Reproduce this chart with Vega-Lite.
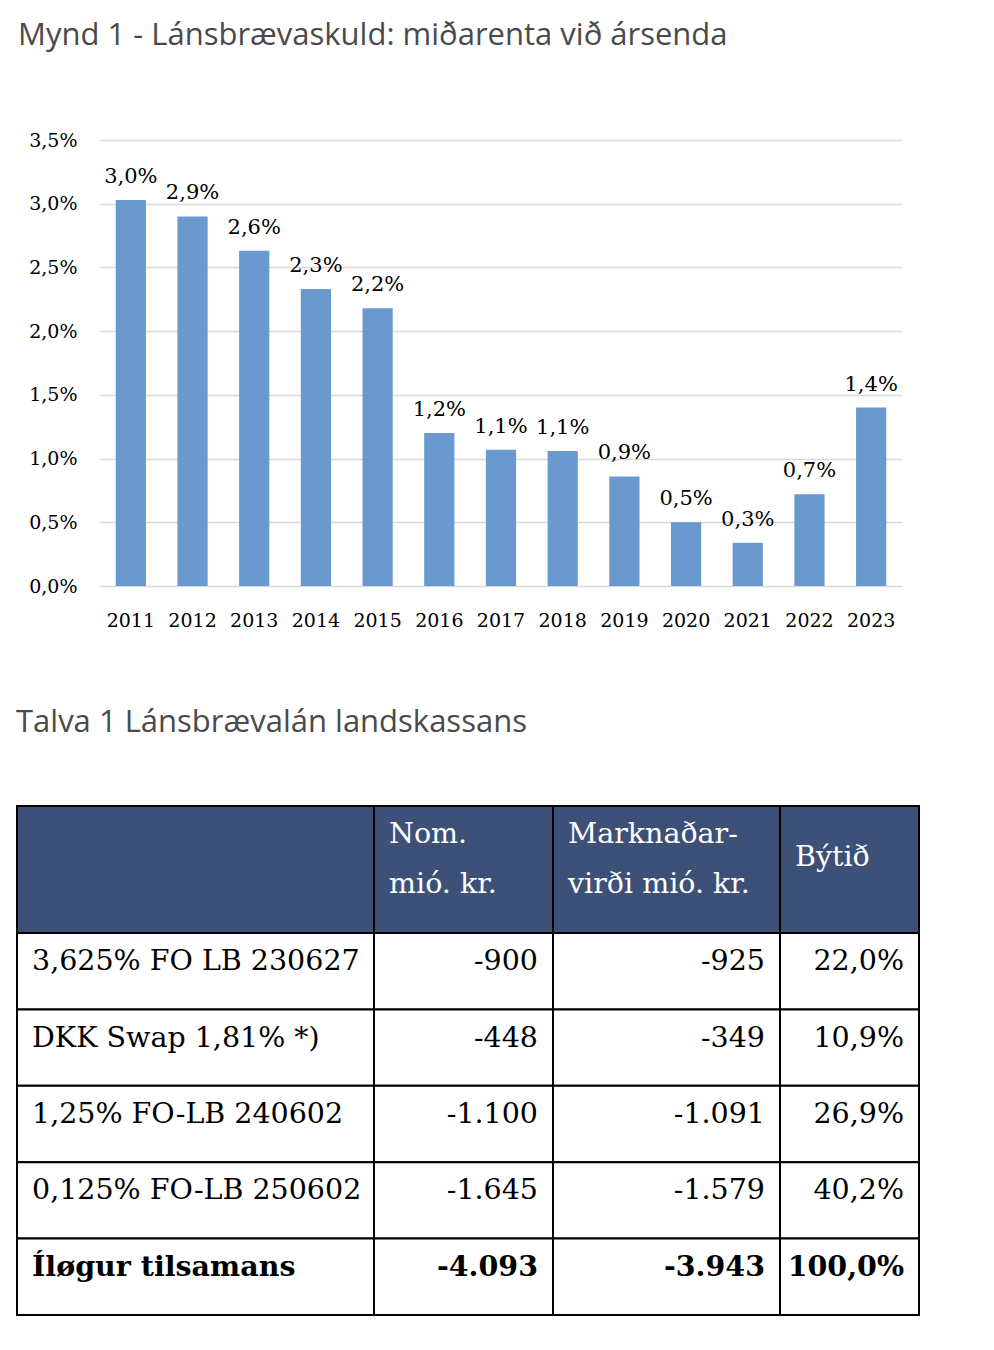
{
  "$schema": "https://vega.github.io/schema/vega-lite/v6.json",
  "padding": {"left": 16, "top": 19, "right": 0, "bottom": 0},
  "background": "white",
  "datasets": {
    "bars": [
      {"year": "2011", "rate": 0.0303},
      {"year": "2012", "rate": 0.0290},
      {"year": "2013", "rate": 0.0263},
      {"year": "2014", "rate": 0.0233},
      {"year": "2015", "rate": 0.0218},
      {"year": "2016", "rate": 0.0120},
      {"year": "2017", "rate": 0.0107},
      {"year": "2018", "rate": 0.0106},
      {"year": "2019", "rate": 0.0086},
      {"year": "2020", "rate": 0.0050},
      {"year": "2021", "rate": 0.0034},
      {"year": "2022", "rate": 0.0072},
      {"year": "2023", "rate": 0.0140}
    ],
    "headers": [
      {"col": "c1", "text": ""},
      {"col": "c2", "text": "Nom.\nmió. kr."},
      {"col": "c3", "text": "Marknaðar-\nvirði mió. kr."},
      {"col": "c4", "text": "Býtið"}
    ],
    "rows": [
      {"row": 1, "label": "3,625% FO LB 230627", "nom": -900, "mv": -925, "share": 0.220, "total": false},
      {"row": 2, "label": "DKK Swap 1,81% *)", "nom": -448, "mv": -349, "share": 0.109, "total": false},
      {"row": 3, "label": "1,25% FO-LB 240602", "nom": -1100, "mv": -1091, "share": 0.269, "total": false},
      {"row": 4, "label": "0,125% FO-LB 250602", "nom": -1645, "mv": -1579, "share": 0.402, "total": false},
      {"row": 5, "label": "Íløgur tilsamans", "nom": -4093, "mv": -3943, "share": 1.0, "total": true}
    ],
    "blank": [{"note": ""}]
  },
  "spacing": 0,
  "vconcat": [
    {
      "spacing": 0,
      "hconcat": [
        {
          "width": 1,
          "height": 446,
          "data": {"name": "blank"},
          "mark": {"type": "text", "opacity": 0},
          "encoding": {"text": {"field": "note"}}
        },
        {
          "title": {"text": "Mynd 1 - Lánsbrævaskuld: miðarenta við ársenda", "anchor": "start", "font": "Open Sans", "fontSize": 31, "fontWeight": "normal", "color": "#4a4a4a", "offset": 79.5},
          "width": 802,
          "height": 446,
          "data": {"name": "bars"},
          "encoding": {
            "x": {"field": "year", "type": "ordinal", "scale": {"paddingInner": 0.51, "paddingOuter": 0.255},
              "axis": {"title": null, "labelAngle": 0, "labelFont": "DejaVu Serif", "labelFontSize": 19, "labelColor": "#000", "ticks": false, "tickSize": 0, "domain": false, "labelPadding": 25, "minExtent": 121}},
            "y": {"field": "rate", "type": "quantitative", "scale": {"domain": [0, 0.035]},
              "axis": {"title": null, "values": [0, 0.005, 0.01, 0.015, 0.02, 0.025, 0.03, 0.035], "format": ".1%", "labelFont": "DejaVu Serif", "labelFontSize": 19, "labelColor": "#000", "ticks": false, "tickSize": 0, "domain": false, "labelPadding": 23, "minExtent": 82, "gridColor": "#d9d9d9", "gridWidth": 1.5}}
          },
          "layer": [
            {"mark": {"type": "bar", "color": "#6A99D0"}},
            {"mark": {"type": "text", "dy": -17, "baseline": "alphabetic", "font": "DejaVu Serif", "fontSize": 21, "color": "#000"},
              "encoding": {"text": {"field": "rate", "type": "quantitative", "format": ".1%"}}}
          ]
        }
      ]
    },
    {
      "title": {"text": "Talva 1 Lánsbrævalán landskassans", "anchor": "start", "font": "Open Sans", "fontSize": 31, "fontWeight": "normal", "color": "#4a4a4a", "offset": 66},
      "columns": 4,
      "spacing": 0,
      "bounds": "flush",
      "concat": [
        {
          "width": 357, "height": 127,
          "data": {"name": "headers"},
          "transform": [{"filter": "datum.col == 'c1'"}],
          "layer": [
            {"mark": {"type": "rect", "fill": "#3C5078", "stroke": "#000", "strokeWidth": 2}, "encoding": {}},
            {"mark": {"type": "text", "align": "left", "baseline": "alphabetic", "dx": 15, "dy": -26.5, "font": "DejaVu Serif", "fontSize": 28.5, "color": "#ffffff", "lineBreak": "\n", "lineHeight": 50},
              "encoding": {"text": {"field": "text"}, "x": {"datum": 0, "type": "quantitative", "scale": {"domain": [0, 1]}, "axis": null}}}
          ]
        },
        {
          "width": 179, "height": 127,
          "data": {"name": "headers"},
          "transform": [{"filter": "datum.col == 'c2'"}],
          "layer": [
            {"mark": {"type": "rect", "fill": "#3C5078", "stroke": "#000", "strokeWidth": 2}, "encoding": {}},
            {"mark": {"type": "text", "align": "left", "baseline": "alphabetic", "dx": 15, "dy": -26.5, "font": "DejaVu Serif", "fontSize": 28.5, "color": "#ffffff", "lineBreak": "\n", "lineHeight": 50},
              "encoding": {"text": {"field": "text"}, "x": {"datum": 0, "type": "quantitative", "scale": {"domain": [0, 1]}, "axis": null}}}
          ]
        },
        {
          "width": 227, "height": 127,
          "data": {"name": "headers"},
          "transform": [{"filter": "datum.col == 'c3'"}],
          "layer": [
            {"mark": {"type": "rect", "fill": "#3C5078", "stroke": "#000", "strokeWidth": 2}, "encoding": {}},
            {"mark": {"type": "text", "align": "left", "baseline": "alphabetic", "dx": 15, "dy": -26.5, "font": "DejaVu Serif", "fontSize": 28.5, "color": "#ffffff", "lineBreak": "\n", "lineHeight": 50},
              "encoding": {"text": {"field": "text"}, "x": {"datum": 0, "type": "quantitative", "scale": {"domain": [0, 1]}, "axis": null}}}
          ]
        },
        {
          "width": 139, "height": 127,
          "data": {"name": "headers"},
          "transform": [{"filter": "datum.col == 'c4'"}],
          "layer": [
            {"mark": {"type": "rect", "fill": "#3C5078", "stroke": "#000", "strokeWidth": 2}, "encoding": {}},
            {"mark": {"type": "text", "align": "left", "baseline": "alphabetic", "dx": 15, "dy": -3.5, "font": "DejaVu Serif", "fontSize": 28.5, "color": "#ffffff", "lineBreak": "\n", "lineHeight": 50},
              "encoding": {"text": {"field": "text"}, "x": {"datum": 0, "type": "quantitative", "scale": {"domain": [0, 1]}, "axis": null}}}
          ]
        },
        {
          "width": 357, "height": 382,
          "data": {"name": "rows"},
          "encoding": {"y": {"field": "row", "type": "ordinal", "scale": {"paddingInner": 0, "paddingOuter": 0}, "axis": null}},
          "layer": [
            {"mark": {"type": "rect", "fill": "#ffffff", "stroke": "#000", "strokeWidth": 2}},
            {"transform": [{"filter": "!datum.total"}],
              "mark": {"type": "text", "align": "left", "baseline": "alphabetic", "dx": 15, "dy": -1, "font": "DejaVu Serif", "fontSize": 28.5, "color": "#000"},
              "encoding": {"text": {"field": "label"}, "x": {"datum": 0, "type": "quantitative", "scale": {"domain": [0, 1]}, "axis": null}}},
            {"transform": [{"filter": "datum.total"}],
              "mark": {"type": "text", "align": "left", "baseline": "alphabetic", "dx": 15, "dy": -1, "font": "DejaVu Serif", "fontSize": 28.5, "fontWeight": "bold", "color": "#000"},
              "encoding": {"text": {"field": "label"}, "x": {"datum": 0, "type": "quantitative", "scale": {"domain": [0, 1]}, "axis": null}}}
          ]
        },
        {
          "width": 179, "height": 382,
          "data": {"name": "rows"},
          "encoding": {"y": {"field": "row", "type": "ordinal", "scale": {"paddingInner": 0, "paddingOuter": 0}, "axis": null}},
          "layer": [
            {"mark": {"type": "rect", "fill": "#ffffff", "stroke": "#000", "strokeWidth": 2}},
            {"transform": [{"filter": "!datum.total"}],
              "mark": {"type": "text", "align": "right", "baseline": "alphabetic", "dx": -15, "dy": -1, "font": "DejaVu Serif", "fontSize": 28.5, "color": "#000"},
              "encoding": {"text": {"field": "nom", "type": "quantitative", "format": ",d"}, "x": {"datum": 1, "type": "quantitative", "scale": {"domain": [0, 1]}, "axis": null}}},
            {"transform": [{"filter": "datum.total"}],
              "mark": {"type": "text", "align": "right", "baseline": "alphabetic", "dx": -15, "dy": -1, "font": "DejaVu Serif", "fontSize": 28.5, "fontWeight": "bold", "color": "#000"},
              "encoding": {"text": {"field": "nom", "type": "quantitative", "format": ",d"}, "x": {"datum": 1, "type": "quantitative", "scale": {"domain": [0, 1]}, "axis": null}}}
          ]
        },
        {
          "width": 227, "height": 382,
          "data": {"name": "rows"},
          "encoding": {"y": {"field": "row", "type": "ordinal", "scale": {"paddingInner": 0, "paddingOuter": 0}, "axis": null}},
          "layer": [
            {"mark": {"type": "rect", "fill": "#ffffff", "stroke": "#000", "strokeWidth": 2}},
            {"transform": [{"filter": "!datum.total"}],
              "mark": {"type": "text", "align": "right", "baseline": "alphabetic", "dx": -15, "dy": -1, "font": "DejaVu Serif", "fontSize": 28.5, "color": "#000"},
              "encoding": {"text": {"field": "mv", "type": "quantitative", "format": ",d"}, "x": {"datum": 1, "type": "quantitative", "scale": {"domain": [0, 1]}, "axis": null}}},
            {"transform": [{"filter": "datum.total"}],
              "mark": {"type": "text", "align": "right", "baseline": "alphabetic", "dx": -15, "dy": -1, "font": "DejaVu Serif", "fontSize": 28.5, "fontWeight": "bold", "color": "#000"},
              "encoding": {"text": {"field": "mv", "type": "quantitative", "format": ",d"}, "x": {"datum": 1, "type": "quantitative", "scale": {"domain": [0, 1]}, "axis": null}}}
          ]
        },
        {
          "width": 139, "height": 382,
          "data": {"name": "rows"},
          "encoding": {"y": {"field": "row", "type": "ordinal", "scale": {"paddingInner": 0, "paddingOuter": 0}, "axis": null}},
          "layer": [
            {"mark": {"type": "rect", "fill": "#ffffff", "stroke": "#000", "strokeWidth": 2}},
            {"transform": [{"filter": "!datum.total"}],
              "mark": {"type": "text", "align": "right", "baseline": "alphabetic", "dx": -15, "dy": -1, "font": "DejaVu Serif", "fontSize": 28.5, "color": "#000"},
              "encoding": {"text": {"field": "share", "type": "quantitative", "format": ".1%"}, "x": {"datum": 1, "type": "quantitative", "scale": {"domain": [0, 1]}, "axis": null}}},
            {"transform": [{"filter": "datum.total"}],
              "mark": {"type": "text", "align": "right", "baseline": "alphabetic", "dx": -15, "dy": -1, "font": "DejaVu Serif", "fontSize": 28.5, "fontWeight": "bold", "color": "#000"},
              "encoding": {"text": {"field": "share", "type": "quantitative", "format": ".1%"}, "x": {"datum": 1, "type": "quantitative", "scale": {"domain": [0, 1]}, "axis": null}}}
          ]
        }
      ]
    }
  ],
  "config": {
    "view": {"stroke": null},
    "locale": {"number": {"decimal": ",", "thousands": ".", "grouping": [3], "currency": ["", " kr."], "minus": "-"}}
  }
}
